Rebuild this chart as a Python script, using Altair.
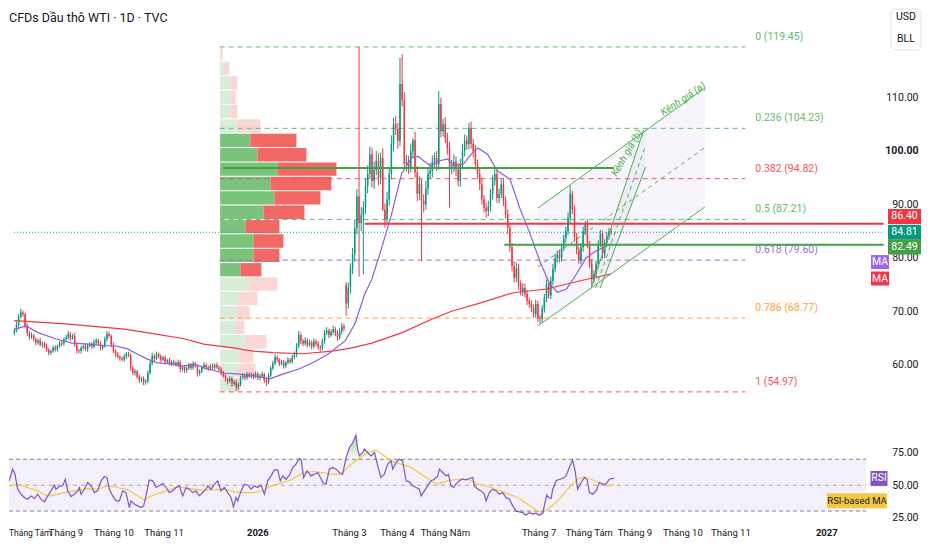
import altair as alt
import pandas as pd

FONT = "Roboto"
TXT = "#131722"
UP = "#089981"
DOWN = "#f23645"
GREEN = "#4caf50"
DKGREEN = "#43a047"
PURPLE = "#8e5ed6"
RSI_C = "#7e57c2"
YELLOW = "#f5c843"

title = "CFDs Dầu thô WTI · 1D · TVC"

# ---------------- candles (bar index 0 = 1 Sep 2025, weekdays only) -------------
first_bar = -26
first_open = 66.0
closes = [
    66.5, 67.5, 69.0, 69.8, 69.5, 67.3, 66.0, 65.2, 65.5, 64.8,
    64.2, 64.6, 63.8, 64.0, 63.5, 62.8, 62.3, 62.6, 63.2, 62.9,
    63.5, 64.1, 64.0, 64.8, 65.2, 65.8, 65.0, 65.5, 63.8, 62.7,
    62.6, 63.2, 63.5, 63.0, 63.6, 63.9, 63.4, 64.2, 64.6, 64.0,
    63.2, 63.5, 64.8, 65.8, 65.4, 63.8, 62.6, 62.0, 61.5, 61.2,
    61.0, 61.6, 62.1, 61.8, 59.5, 58.5, 58.8, 57.8, 57.2, 57.5,
    56.8, 57.0, 58.5, 60.3, 61.7, 61.2, 62.0, 61.6, 61.0, 61.4,
    60.6, 60.9, 60.2, 60.6, 60.4, 60.0, 60.5, 59.2, 59.6, 59.0,
    59.4, 60.0, 59.5, 60.2, 59.8, 58.4, 58.8, 59.6, 60.0, 59.6,
    59.3, 59.8, 59.5, 60.0, 59.6, 59.2, 58.6, 58.0, 57.4, 57.0,
    57.5, 56.5, 56.8, 55.9, 56.4, 57.6, 58.0, 57.6, 58.3, 57.9,
    58.2, 57.8, 58.4, 57.6, 57.9, 58.3, 57.2, 56.8, 58.0, 59.4,
    60.3, 61.4, 61.0, 60.2, 60.6, 59.8, 60.4, 61.0, 60.6, 61.5,
    62.0, 63.5, 65.6, 64.5, 64.0, 64.6, 63.8, 64.2, 63.5, 64.4,
    64.0, 63.4, 63.2, 64.5, 66.0, 66.4, 65.6, 66.2, 66.7, 66.0,
    65.2, 66.3, 67.2, 66.8, 71.5, 74.5, 78.0, 80.7, 85.6, 91.5,
    86.5, 88.0, 89.4, 93.5, 95.7, 99.4, 94.4, 96.5, 98.2, 95.0,
    98.7, 89.0, 87.2, 91.0, 95.7, 101.3, 105.0, 104.2, 101.9, 112.5,
    109.5, 97.6, 98.1, 97.0, 100.0, 102.0, 96.0, 92.0, 93.8, 90.7,
    90.0, 93.0, 95.7, 96.3, 98.0, 98.7, 97.5, 108.8, 103.7, 105.0,
    102.4, 100.5, 96.7, 97.2, 98.0, 96.5, 94.4, 97.5, 100.0, 101.9,
    101.3, 104.3, 101.3, 100.0, 97.5, 95.7, 93.8, 91.0, 89.4, 88.8,
    89.6, 92.0, 94.5, 95.7, 91.2, 92.0, 93.8, 90.7, 88.2, 85.6,
    82.0, 78.5, 76.3, 78.1, 75.1, 73.8, 74.4, 73.3, 72.0, 71.4,
    70.7, 69.5, 71.4, 68.8, 68.6, 70.5, 72.5, 75.1, 73.0, 75.7,
    78.0, 80.0, 80.7, 80.0, 81.9, 83.7, 85.0, 87.5, 92.0, 89.0,
    84.0, 81.5, 79.5, 82.0, 85.0, 86.5, 82.6, 79.0, 76.0, 77.0,
    78.9, 82.6, 84.5, 80.7, 82.8, 84.1, 85.0, 84.81,
]
wick_up = [
    0.4, 0.6, 0.5, 0.7, 0.4, 0.3, 0.5, 0.4, 0.6, 0.3,
    0.4, 0.3, 0.5, 0.4, 0.3, 0.5, 0.4, 0.3, 0.4, 0.5,
    0.3, 0.4, 0.5, 0.3, 0.4, 0.6, 0.4, 0.3, 0.5, 0.4,
    0.3, 0.4, 0.3, 0.5, 0.4, 0.3, 0.4, 0.6, 0.4, 0.3,
    0.4, 0.3, 0.5, 0.6, 0.4, 0.3, 0.4, 0.3, 0.4, 0.3,
    0.4, 0.5, 0.3, 0.4, 0.3, 0.4, 0.5, 0.3, 0.4, 0.3,
    0.4, 0.3, 0.5, 0.4, 0.6, 0.4, 0.5, 0.3, 0.4, 0.3,
    0.4, 0.3, 0.4, 0.3, 0.4, 0.3, 0.5, 0.4, 0.3, 0.4,
    0.3, 0.4, 0.3, 0.5, 0.4, 0.3, 0.4, 0.3, 0.5, 0.4,
    0.3, 0.4, 0.5, 0.3, 0.4, 0.3, 0.4, 0.3, 0.4, 0.3,
    0.4, 0.3, 0.5, 0.4, 0.3, 0.4, 0.5, 0.3, 0.4, 0.3,
    0.4, 0.3, 0.4, 0.3, 0.4, 0.5, 0.3, 0.4, 0.5, 0.4,
    0.5, 0.6, 0.4, 0.3, 0.4, 0.3, 0.4, 0.5, 0.3, 0.4,
    0.5, 0.6, 0.8, 0.5, 0.4, 0.6, 0.4, 0.5, 0.4, 0.6,
    0.4, 0.5, 0.3, 0.5, 0.6, 0.7, 0.4, 0.5, 0.6, 0.4,
    0.5, 0.6, 0.7, 0.5, 0.5, 0.9, 1.0, 1.2, 1.5, 1.4,
    27.95, 1.5, 1.2, 1.3, 1.6, 1.4, 1.2, 1.5, 1.8, 1.4,
    1.0, 1.8, 1.2, 1.4, 1.0, 1.6, 1.2, 1.5, 1.0, 4.9,
    5.6, 1.5, 1.2, 1.0, 1.4, 0.4, 1.6, 1.2, 1.5, 1.0,
    1.2, 1.4, 1.0, 1.5, 1.2, 1.0, 1.3, 2.4, 1.2, 1.0,
    1.3, 1.0, 1.2, 1.1, 1.4, 1.0, 1.2, 1.0, 1.3, 1.2,
    1.0, 0.9, 1.2, 1.0, 1.1, 0.9, 1.0, 1.2, 0.8, 1.0,
    1.1, 0.9, 1.0, 1.2, 0.8, 1.0, 0.9, 1.1, 0.8, 0.9,
    1.0, 0.8, 0.9, 1.1, 0.8, 0.7, 0.9, 0.8, 0.7, 0.6,
    0.7, 0.6, 0.8, 0.6, 0.5, 0.7, 0.8, 0.9, 0.7, 0.8,
    0.9, 0.8, 0.7, 0.9, 0.8, 0.7, 0.9, 1.0, 1.5, 0.5,
    0.8, 0.7, 0.6, 0.8, 0.9, 0.4, 0.7, 0.6, 0.8, 0.7,
    0.6, 0.7, 0.8, 0.6, 0.7, 0.8, 0.6, 0.5,
]
wick_dn = [
    0.5, 0.4, 0.6, 0.3, 0.5, 0.4, 0.6, 0.5, 0.3, 0.4,
    0.5, 0.4, 0.3, 0.6, 0.4, 0.3, 0.5, 0.4, 0.3, 0.4,
    0.4, 0.3, 0.5, 0.4, 0.3, 0.4, 0.5, 0.3, 0.4, 0.6,
    0.4, 0.5, 0.3, 0.4, 0.5, 0.3, 0.4, 0.3, 0.5, 0.4,
    0.5, 0.4, 0.3, 0.4, 0.3, 0.5, 0.4, 0.6, 0.3, 0.4,
    0.3, 0.4, 0.5, 0.3, 0.6, 0.4, 0.5, 0.4, 0.6, 0.4,
    0.6, 0.5, 0.4, 0.3, 0.4, 0.5, 0.3, 0.4, 0.5, 0.3,
    0.5, 0.4, 0.3, 0.4, 0.5, 0.3, 0.4, 0.6, 0.4, 0.5,
    0.4, 0.3, 0.5, 0.4, 0.3, 0.6, 0.4, 0.3, 0.4, 0.5,
    0.4, 0.3, 0.4, 0.5, 0.3, 0.4, 0.5, 0.4, 0.5, 0.6,
    0.4, 0.6, 0.4, 0.7, 0.5, 0.4, 0.3, 0.5, 0.4, 0.3,
    0.4, 0.5, 0.3, 0.4, 0.5, 0.3, 0.6, 0.7, 0.4, 0.3,
    0.4, 0.3, 0.5, 0.4, 0.3, 0.5, 0.4, 0.3, 0.4, 0.3,
    0.4, 0.5, 0.3, 0.6, 0.5, 0.4, 0.5, 0.4, 0.6, 0.4,
    0.5, 0.6, 0.7, 0.4, 0.5, 0.4, 0.6, 0.4, 0.5, 0.6,
    0.7, 0.5, 0.6, 0.5, 2.3, 1.0, 1.2, 1.0, 1.4, 1.2,
    10.0, 1.5, 11.0, 1.2, 1.4, 1.0, 1.2, 1.5, 1.0, 1.4,
    1.2, 0.2, 1.5, 1.0, 1.2, 1.0, 1.4, 1.2, 1.5, 1.0,
    1.2, 1.0, 1.5, 1.3, 1.0, 1.2, 1.0, 1.4, 1.2, 11.3,
    1.5, 1.0, 1.2, 1.0, 1.3, 1.0, 1.2, 1.0, 1.2, 1.0,
    1.0, 1.2, 7.3, 1.0, 1.1, 1.2, 1.0, 1.1, 0.9, 1.0,
    1.1, 1.0, 0.9, 1.2, 1.0, 0.9, 1.1, 1.0, 0.9, 1.3,
    1.0, 0.9, 1.1, 1.0, 0.9, 1.0, 0.8, 1.0, 0.9, 1.1,
    0.8, 1.0, 0.9, 0.8, 1.0, 0.8, 0.9, 0.7, 0.8, 0.7,
    0.8, 0.7, 0.6, 0.7, 0.9, 0.6, 0.7, 0.8, 0.6, 0.7,
    0.8, 0.7, 0.9, 0.8, 0.7, 0.6, 0.8, 0.7, 0.9, 0.8,
    0.9, 0.8, 0.6, 0.7, 0.8, 0.7, 0.8, 0.9, 1.2, 0.7,
    0.8, 0.7, 0.6, 0.8, 0.7, 0.6, 0.7, 0.5,
]
open_override = {128: 75.0}

# ---------------- moving averages (bar, price) ----------------
red_ma = [(-26.1, 68.3), (-2.3, 67.7), (25.2, 66.7), (39.0, 65.8), (52.8, 64.9),
          (61.9, 63.9), (75.7, 63.2), (84.9, 62.6), (94.0, 62.3), (107.8, 62.1),
          (121.6, 62.6), (130.7, 63.2), (139.9, 64.1), (153.7, 66.0), (167.4, 68.5),
          (176.6, 70.0), (190.4, 71.6), (205.5, 73.5), (221.1, 74.2), (236.2, 75.7),
          (250.9, 77.0)]
purple_ma = [(-26.1, 66.6), (-20.6, 67.3), (-14.7, 66.0), (-6.9, 64.9), (0.9, 64.1),
             (8.3, 63.9), (16.1, 63.6), (20.6, 63.6), (26.6, 63.0), (31.2, 62.0),
             (35.8, 61.1), (40.4, 60.4), (46.8, 60.2), (52.8, 59.8), (57.3, 60.2),
             (63.3, 59.3), (71.1, 58.5), (78.9, 58.3), (86.2, 57.9), (92.7, 57.4),
             (98.6, 58.3), (106.4, 59.3), (113.8, 60.7), (120.2, 62.2), (127.5, 64.5),
             (132.1, 67.7), (136.7, 73.3), (139.9, 76.0), (144.5, 81.9), (149.1, 88.2),
             (153.7, 95.7), (158.3, 98.7), (161.5, 99.0), (164.2, 98.1), (167.4, 97.2),
             (170.6, 98.1), (175.2, 98.5), (178.0, 97.2), (182.6, 97.6), (187.2, 100.0),
             (189.4, 100.5), (193.6, 99.4), (198.2, 96.3), (204.1, 94.7), (208.7, 89.2),
             (213.3, 84.6), (217.9, 79.4), (222.5, 75.1), (226.1, 73.6), (230.3, 74.2),
             (234.9, 77.0), (239.4, 80.0), (244.0, 81.3), (248.6, 82.2), (250.9, 82.6)]

# ---------------- RSI (bar, value) ----------------
rsi_pts = [(-26.0, 53.4), (-24.5, 62.4), (-23.4, 58.5), (-22.2, 46.9), (-20.6, 43.0),
           (-19.1, 40.5), (-17.6, 39.2), (-16.0, 41.7), (-14.5, 39.7), (-13.0, 43.0),
           (-11.5, 39.2), (-9.9, 37.1), (-8.4, 41.7), (-6.9, 45.6), (-5.3, 50.0),
           (-4.6, 46.9), (-3.0, 49.0), (-1.5, 49.5), (-0.3, 54.6), (0.8, 45.6),
           (2.3, 41.2), (3.8, 43.0), (5.4, 45.6), (6.1, 48.2), (6.9, 43.0),
           (8.4, 46.9), (10.0, 52.1), (11.5, 49.5), (13.0, 44.3), (14.5, 45.6),
           (16.1, 53.4), (17.6, 56.7), (18.8, 55.9), (19.9, 46.9), (21.4, 41.7),
           (23.0, 37.9), (24.5, 37.9), (26.0, 45.6), (27.5, 44.3), (29.1, 32.7),
           (29.8, 37.9), (31.4, 35.3), (32.9, 34.0), (34.4, 32.7), (35.6, 34.0),
           (36.7, 41.7), (38.2, 54.1), (39.8, 53.4), (41.3, 48.2), (42.8, 49.5),
           (44.4, 51.5), (45.9, 48.2), (47.4, 44.3), (48.9, 45.6), (50.5, 48.2),
           (52.0, 49.5), (53.5, 41.7), (55.1, 48.2), (56.6, 46.9), (58.1, 44.3),
           (59.6, 45.6), (61.2, 41.7), (62.7, 44.3), (64.2, 46.9), (65.0, 49.5),
           (66.5, 46.9), (68.1, 50.8), (69.6, 53.4), (71.1, 45.6), (72.6, 48.2),
           (74.2, 44.3), (75.7, 40.5), (76.8, 33.2), (78.0, 40.5), (78.8, 37.9),
           (80.3, 45.6), (81.8, 50.8), (83.4, 50.0), (84.9, 46.9), (86.4, 49.5),
           (87.9, 48.2), (89.5, 50.0), (91.0, 43.0), (92.5, 53.4), (94.1, 57.2),
           (95.6, 61.9), (97.1, 61.9), (98.3, 53.4), (99.4, 57.2), (100.9, 54.6),
           (102.5, 57.7), (104.0, 63.7), (105.5, 66.3), (107.0, 70.6), (107.8, 70.1),
           (109.0, 55.9), (110.6, 61.1), (112.4, 57.2), (113.9, 58.5), (115.5, 59.8),
           (116.7, 55.9), (117.8, 52.1), (119.3, 50.8), (120.8, 62.4), (122.3, 63.7),
           (123.9, 62.4), (125.4, 59.8), (126.9, 58.5), (128.5, 71.4), (130.0, 79.2),
           (131.5, 83.0), (133.0, 88.7), (133.8, 77.9), (134.6, 72.7), (136.1, 75.3),
           (136.9, 77.9), (138.4, 75.3), (139.9, 72.7), (141.5, 75.3), (143.0, 65.0),
           (144.5, 55.9), (146.0, 58.5), (147.6, 66.3), (149.1, 68.8), (149.9, 62.4),
           (151.4, 67.5), (152.9, 70.1), (154.4, 68.8), (156.0, 53.4), (157.5, 52.6),
           (159.0, 49.5), (160.6, 48.2), (162.1, 46.9), (162.9, 41.7), (164.4, 45.6),
           (165.9, 49.5), (167.4, 53.4), (169.0, 54.6), (170.5, 57.2), (171.3, 62.4),
           (172.8, 59.8), (174.3, 57.2), (175.4, 58.5), (176.6, 49.5), (177.8, 48.2),
           (178.9, 50.8), (180.4, 53.4), (181.9, 54.6), (183.5, 54.1), (185.0, 55.2),
           (186.6, 55.9), (187.3, 49.5), (188.9, 46.9), (190.4, 45.6), (191.9, 43.0),
           (192.7, 37.9), (194.2, 44.3), (195.7, 46.9), (197.3, 45.6), (198.8, 43.0),
           (200.3, 44.3), (201.8, 40.5), (203.4, 39.2), (204.9, 34.0), (206.4, 30.1),
           (208.0, 29.4), (209.5, 28.8), (211.0, 26.8), (212.6, 28.8), (214.1, 27.6),
           (215.6, 28.3), (217.1, 26.8), (218.7, 28.3), (219.4, 34.0), (220.5, 42.3),
           (221.4, 40.5), (222.5, 39.7), (223.3, 46.9), (224.8, 53.4), (226.3, 54.6),
           (227.8, 55.2), (229.4, 57.2), (230.9, 63.7), (232.4, 69.6), (233.5, 61.1),
           (234.7, 46.9), (236.3, 52.1), (237.8, 55.9), (239.0, 54.6), (240.1, 44.3),
           (241.6, 43.0), (243.1, 45.6), (244.7, 52.1), (246.2, 50.8), (247.7, 50.8),
           (249.2, 54.6), (250.8, 55.2), (251.4, 55.2)]
rsi_ma_pts = [(-26.1, 49.3), (-25.2, 49.5), (-22.2, 50.8), (-17.6, 48.2), (-13.0, 45.6),
              (-8.4, 41.7), (-5.3, 42.3), (-0.7, 44.3), (3.8, 45.6), (10.0, 47.4),
              (14.5, 46.9), (19.1, 49.5), (23.7, 48.2), (28.3, 46.4), (32.9, 41.7),
              (35.9, 38.6), (39.0, 41.7), (43.6, 44.3), (48.2, 46.9), (51.2, 49.0),
              (55.8, 47.4), (61.9, 46.4), (68.1, 46.4), (72.6, 46.9), (77.2, 44.8),
              (81.8, 44.3), (86.4, 44.3), (91.0, 46.1), (94.1, 49.5), (98.6, 51.5),
              (103.2, 54.1), (106.3, 57.2), (109.3, 59.8), (113.9, 60.6), (117.0, 59.8),
              (121.6, 58.5), (126.2, 58.5), (129.2, 63.7), (133.8, 70.1), (138.4, 75.3),
              (142.2, 77.1), (146.0, 72.7), (149.1, 68.8), (153.7, 66.3), (158.3, 63.7),
              (162.9, 58.5), (167.4, 53.4), (170.5, 50.8), (175.1, 53.4), (179.7, 54.6),
              (184.3, 54.6), (188.9, 50.8), (195.0, 48.2), (201.1, 44.3), (207.2, 40.5),
              (211.8, 35.3), (216.4, 30.1), (218.7, 28.8), (221.0, 31.4), (225.6, 37.9),
              (230.1, 46.9), (234.7, 54.6), (237.8, 56.7), (242.4, 53.4), (247.0, 50.0),
              (249.2, 49.5), (251.5, 50.3)]

# ---------------- volume profile (rows from top) ----------------
vp_buy = [0.5, 3.3, 10.3, 10.3, 10.3, 17.3, 30.3, 37.3, 57.3, 50.3, 54.3, 43.3,
          25.3, 33.3, 33.3, 20.3, 29.3, 18.3, 16.3, 16.3, 25.3, 19.3, 18.3, 15.3]
vp_sell = [1.8, 6.0, 7.0, 5.0, 7.0, 23.0, 46.0, 49.0, 59.0, 61.0, 46.0, 41.0,
           34.0, 30.0, 26.0, 21.0, 28.0, 19.0, 13.0, 8.0, 21.0, 14.0, 17.0, 5.0]
vp_value_area = (6, 15)
vp_low, vp_high = 54.97, 119.45
vp_start_bar = 70.7

# ---------------- fibonacci ----------------
fib_ratio = ["0", "0.236", "0.382", "0.5", "0.618", "0.786", "1"]
fib_price = [119.45, 104.23, 94.82, 87.21, 79.60, 68.77, 54.97]
fib_color = ["#66bb6a", "#66bb6a", "#f7525f", "#66bb6a", "#9575cd", "#ffa23e", "#f7525f"]
fib_start, fib_end, fib_label_bar = 69.3, 313.3, 317.9

# ---------------- drawings ----------------
level_price = [96.8, 86.40, 82.49]
level_from = [71.0, 136.7, 201.4]
level_to = [252.3, 377.5, 377.5]
level_color = [DKGREEN, DOWN, DKGREEN]
last_price = 84.81

chan_a = {"bar": [217.0, 294.5], "upper": [89.35, 111.78], "lower": [67.29, 89.53],
          "mid": [78.32, 100.65]}
chan_b_price = [74.39, 97.01, 103.93]
chan_b_left = [241.7, 260.4, 266.1]
chan_b_right = [245.9, 267.0, 266.1]
chan_b_mid = [(243.8, 74.39), (266.5, 100.47)]

month_bar = [-21, 0, 22, 45, 88, 130, 152, 174, 217, 240, 261, 283, 305, 349]
month_name = ["Tháng Tám", "Tháng 9", "Tháng 10", "Tháng 11", "2026", "Tháng 3",
              "Tháng 4", "Tháng Năm", "Tháng 7", "Tháng Tám", "Tháng 9", "Tháng 10",
              "Tháng 11", "2027"]

# =====================================================================
W, H1, H2, H3 = 857, 412, 97, 12
xdom = [-26.15, 366.97]
xs = alt.Scale(domain=xdom, nice=False, zero=False)
ys = alt.Scale(domain=[49.53, 126.54], nice=False, zero=False)
rs = alt.Scale(domain=[22.31, 97.33], nice=False, zero=False)

yax = alt.Axis(orient="right", values=[60, 70, 80, 90, 100, 110], format=".2f",
               labelAlign="right", labelPadding=52, ticks=False, tickSize=0,
               domain=False, grid=False, title=None, labelFont=FONT,
               labelFontSize=10.5, labelColor=TXT,
               labelFontWeight={"condition": {"test": "datum.value == 100", "value": "bold"},
                                "value": "normal"})
rax = alt.Axis(orient="right", values=[25, 50, 75], format=".2f",
               labelAlign="right", labelPadding=52, ticks=False, tickSize=0,
               domain=False, grid=False, title=None, labelFont=FONT,
               labelFontSize=10.5, labelColor=TXT)


def X(f):
    return alt.X(f, scale=xs, axis=None)


def Y(f):
    return alt.Y(f, scale=ys, axis=yax)


def R(f):
    return alt.Y(f, scale=rs, axis=rax)


NOCOL = alt.Color("col:N", scale=None)

# candles
n = len(closes)
bars = list(range(first_bar, first_bar + n))
opens = [first_open] + closes[:-1]
for b, v in open_override.items():
    opens[b - first_bar] = v
highs = [max(o, c) + w for o, c, w in zip(opens, closes, wick_up)]
lows = [min(o, c) - w for o, c, w in zip(opens, closes, wick_dn)]
cdf = pd.DataFrame({"i": bars, "o": opens, "h": highs, "l": lows, "c": closes})
cdf["col"] = [UP if c >= o else DOWN for o, c in zip(opens, closes)]

wicks = alt.Chart(cdf).mark_rule(strokeWidth=1, clip=True).encode(
    x=X("i:Q"), y=Y("l:Q"), y2="h:Q", color=NOCOL)
bodies = alt.Chart(cdf).mark_bar(width=1.5, clip=True).encode(
    x=X("i:Q"), y=Y("o:Q"), y2="c:Q", color=NOCOL)

# volume profile
step = (vp_high - vp_low) / len(vp_buy)
vrows = []
for k, (bv, sv) in enumerate(zip(vp_buy, vp_sell)):
    hi = vp_high - k * step - 0.1
    lo = vp_high - (k + 1) * step + 0.1
    in_va = vp_value_area[0] <= k <= vp_value_area[1]
    vrows.append({"x0": 0, "x1": bv, "lo": lo, "hi": hi, "col": GREEN,
                  "op": 0.75 if in_va else 0.22})
    vrows.append({"x0": bv, "x1": bv + sv, "lo": lo, "hi": hi, "col": "#ef5350",
                  "op": 0.88 if in_va else 0.24})
vpdf = pd.DataFrame(vrows)
vp_px0 = (vp_start_bar - xdom[0]) / (xdom[1] - xdom[0]) * W
vp = alt.Chart(vpdf).mark_rect().encode(
    x=alt.X("x0:Q", scale=alt.Scale(domain=[0, 100], range=[vp_px0, vp_px0 + 100]), axis=None),
    x2="x1:Q", y=Y("lo:Q"), y2="hi:Q", color=NOCOL,
    opacity=alt.Opacity("op:Q", scale=None))

# fibonacci
fdf = pd.DataFrame({"a": fib_start, "b": fib_end, "lx": fib_label_bar, "p": fib_price,
                    "col": fib_color,
                    "lab": [f"{r} ({p:.2f})" for r, p in zip(fib_ratio, fib_price)]})
fib_rules = alt.Chart(fdf).mark_rule(strokeWidth=1, strokeDash=[5, 4]).encode(
    x=X("a:Q"), x2="b:Q", y=Y("p:Q"), color=NOCOL)
fib_text = alt.Chart(fdf).mark_text(align="left", baseline="middle", dy=-10,
                                    font=FONT, fontSize=10.5).encode(
    x=X("lx:Q"), y=Y("p:Q"), text="lab:N", color=NOCOL)

# channels
ca = pd.DataFrame(chan_a)
chan_a_fill = alt.Chart(ca).mark_area(color="#7e57c2", opacity=0.06).encode(
    x=X("bar:Q"), y=Y("upper:Q"), y2="lower:Q")
cb = pd.DataFrame({"p": chan_b_price, "l": chan_b_left, "r": chan_b_right})
chan_b_fill = alt.Chart(cb).mark_area(orient="horizontal", color="#7e57c2", opacity=0.06).encode(
    y=Y("p:Q"), x=X("l:Q"), x2="r:Q")
solid = pd.DataFrame({
    "a": [chan_a["bar"][0], chan_a["bar"][0], chan_b_left[0], chan_b_right[0]],
    "pa": [chan_a["upper"][0], chan_a["lower"][0], chan_b_price[0], chan_b_price[0]],
    "b": [chan_a["bar"][1], chan_a["bar"][1], chan_b_left[2], chan_b_right[1]],
    "pb": [chan_a["upper"][1], chan_a["lower"][1], chan_b_price[2], chan_b_price[1]]})
dashed = pd.DataFrame({
    "a": [chan_a["bar"][0], chan_b_mid[0][0]], "pa": [chan_a["mid"][0], chan_b_mid[0][1]],
    "b": [chan_a["bar"][1], chan_b_mid[1][0]], "pb": [chan_a["mid"][1], chan_b_mid[1][1]]})
chan_lines = alt.Chart(solid).mark_rule(color=GREEN, strokeWidth=1).encode(
    x=X("a:Q"), x2="b:Q", y=Y("pa:Q"), y2="pb:Q")
chan_mid = alt.Chart(dashed).mark_rule(color=GREEN, strokeWidth=1, strokeDash=[4, 4]).encode(
    x=X("a:Q"), x2="b:Q", y=Y("pa:Q"), y2="pb:Q")
lab_a = alt.Chart(pd.DataFrame({"i": [284.4], "p": [109.7], "t": ["Kênh giá (a)"]})).mark_text(
    angle=326, color=GREEN, font=FONT, fontSize=10, fontStyle="italic").encode(
    x=X("i:Q"), y=Y("p:Q"), text="t:N")
lab_b = alt.Chart(pd.DataFrame({"i": [258.3], "p": [99.6], "t": ["Kênh giá (b)"]})).mark_text(
    angle=300, color=GREEN, font=FONT, fontSize=10, fontStyle="italic").encode(
    x=X("i:Q"), y=Y("p:Q"), text="t:N")

# horizontal levels
ldf = pd.DataFrame({"a": level_from, "b": level_to, "p": level_price, "col": level_color})
levels = alt.Chart(ldf).mark_rule(strokeWidth=2).encode(
    x=X("a:Q"), x2="b:Q", y=Y("p:Q"), color=NOCOL)
lastline = alt.Chart(pd.DataFrame({"a": [xdom[0]], "b": [377.5], "p": [last_price]})).mark_rule(
    color=UP, strokeWidth=1, strokeDash=[1, 2]).encode(x=X("a:Q"), x2="b:Q", y=Y("p:Q"))

# moving averages
rma = pd.DataFrame(red_ma, columns=["i", "v"])
pma = pd.DataFrame(purple_ma, columns=["i", "v"])
red_line = alt.Chart(rma).mark_line(color="#f23645", strokeWidth=1.2, clip=True).encode(
    x=X("i:Q"), y=Y("v:Q"))
pur_line = alt.Chart(pma).mark_line(color=PURPLE, strokeWidth=1.2, clip=True).encode(
    x=X("i:Q"), y=Y("v:Q"))


def box(price, text, fill, xc, wpx, hpx, yoff, tcol="white", fs=10.5, scale_fn=Y):
    half = hpx / wpx
    shape = f"M-1,-{half:.3f}L1,-{half:.3f}L1,{half:.3f}L-1,{half:.3f}Z"
    d = pd.DataFrame({"p": [price], "t": [text]})
    b = alt.Chart(d).mark_point(shape=shape, size=wpx * wpx, filled=True, opacity=1,
                                color=fill, strokeWidth=0, yOffset=yoff).encode(
        x=alt.value(xc), y=scale_fn("p:Q"))
    t = alt.Chart(d).mark_text(color=tcol, font=FONT, fontSize=fs, yOffset=yoff,
                               baseline="middle").encode(
        x=alt.value(xc), y=scale_fn("p:Q"), text="t:N")
    return [b, t]


price_boxes = (box(86.40, "86.40", DOWN, 895.5, 33, 15, -7.3)
               + box(last_price, "84.81", UP, 895.5, 33, 15, 0)
               + box(82.49, "82.49", DKGREEN, 895.5, 33, 15, 2.3)
               + box(purple_ma[-1][1], "MA", "#9c6ade", 871, 18, 14, 18)
               + box(red_ma[-1][1], "MA", "#f23645", 871, 18, 14, 4.5))

one = pd.DataFrame({"a": [0]})
title_mark = alt.Chart(one).mark_text(text=title, align="left", baseline="middle",
                                      font=FONT, fontSize=12.5, color=TXT).encode(
    x=alt.value(0), y=alt.value(9))
cur_box = alt.Chart(one).mark_rect(fill="white", stroke="#e0e3eb", strokeWidth=1,
                                   cornerRadius=4).encode(
    x=alt.value(882), x2=alt.value(912), y=alt.value(0), y2=alt.value(41))
cur_usd = alt.Chart(one).mark_text(text="USD", font=FONT, fontSize=10.5, color=TXT,
                                   baseline="middle").encode(x=alt.value(897), y=alt.value(8))
cur_bll = alt.Chart(one).mark_text(text="BLL", font=FONT, fontSize=10.5, color=TXT,
                                   baseline="middle").encode(x=alt.value(897), y=alt.value(30))

inner = alt.layer(chan_a_fill, chan_b_fill, fib_rules, fib_text, lastline,
                  wicks, bodies, red_line, pur_line, levels, chan_lines, chan_mid,
                  lab_a, lab_b, *price_boxes, title_mark, cur_box, cur_usd, cur_bll)
main = alt.layer(vp, inner).resolve_scale(x="independent").properties(width=W, height=H1)

# ---------------- RSI pane ----------------
rdf = pd.DataFrame(rsi_pts, columns=["i", "v"])
rmdf = pd.DataFrame(rsi_ma_pts, columns=["i", "v"])
band = alt.Chart(pd.DataFrame({"a": [xdom[0]], "b": [xdom[1]], "t": [70], "u": [30]})).mark_rect(
    color="#7e57c2", opacity=0.09).encode(x=X("a:Q"), x2="b:Q", y=R("t:Q"), y2="u:Q")
bl = pd.DataFrame({"a": [xdom[0]] * 2, "b": [xdom[1]] * 2, "v": [70, 30]})
band_lines = alt.Chart(bl).mark_rule(color="#868993", strokeWidth=1, strokeDash=[4, 3]).encode(
    x=X("a:Q"), x2="b:Q", y=R("v:Q"))
mid_line = alt.Chart(pd.DataFrame({"a": [xdom[0]], "b": [xdom[1]], "v": [50]})).mark_rule(
    color="#a3a6af", strokeWidth=1, strokeDash=[4, 4]).encode(x=X("a:Q"), x2="b:Q", y=R("v:Q"))
ob_fill = alt.Chart(rdf).transform_calculate(ob="max(datum.v, 70)", b="70").mark_area(
    color=alt.Gradient(gradient="linear",
                       stops=[alt.GradientStop(color="rgba(76,175,80,0.55)", offset=0),
                              alt.GradientStop(color="rgba(76,175,80,0.05)", offset=1)],
                       x1=1, x2=1, y1=0, y2=1), clip=True).encode(
    x=X("i:Q"), y=R("ob:Q"), y2="b:Q")
os_fill = alt.Chart(rdf).transform_calculate(os="min(datum.v, 30)", b="30").mark_area(
    color="#f23645", opacity=0.15, clip=True).encode(x=X("i:Q"), y=R("os:Q"), y2="b:Q")
rsi_line = alt.Chart(rdf).mark_line(color=RSI_C, strokeWidth=1.2, clip=True).encode(
    x=X("i:Q"), y=R("v:Q"))
rsi_ma_line = alt.Chart(rmdf).mark_line(color=YELLOW, strokeWidth=1.2, clip=True).encode(
    x=X("i:Q"), y=R("v:Q"))
rsi_boxes = (box(rsi_pts[-1][1], "RSI", RSI_C, 870, 17, 15, 0, scale_fn=R)
             + box(rsi_ma_pts[-1][1], "RSI-based MA", YELLOW, 848, 60, 15, 16, tcol=TXT,
                   fs=9.5, scale_fn=R))
rsi = alt.layer(band, band_lines, mid_line, ob_fill, os_fill, rsi_ma_line, rsi_line,
                *rsi_boxes).properties(width=W, height=H2)

# ---------------- time labels ----------------
mdf = pd.DataFrame({"i": month_bar, "t": month_name})
mdf["bold"] = mdf["t"].str.match(r"^\d{4}$")
first_lab = mdf.iloc[[0]]
rest = mdf.iloc[1:]
# the first month sits at the very left edge: start it flush with the pane
lab_first = alt.Chart(first_lab).mark_text(font=FONT, fontSize=8.5, color=TXT,
                                           align="left", baseline="middle").encode(
    x=alt.value(0), y=alt.value(6), text="t:N")
lab_norm = alt.Chart(rest[~rest["bold"]]).mark_text(clip=True, font=FONT, fontSize=9.5,
                                                     color=TXT, baseline="middle").encode(
    x=X("i:Q"), y=alt.value(6), text="t:N")
lab_bold = alt.Chart(rest[rest["bold"]]).mark_text(clip=True, font=FONT, fontSize=9.5,
                                                    fontWeight="bold", color=TXT,
                                                    baseline="middle").encode(
    x=X("i:Q"), y=alt.value(6), text="t:N")
labels = alt.layer(lab_first, lab_norm, lab_bold).properties(width=W, height=H3)

chart = alt.vconcat(main, rsi, labels, spacing=3).properties(
    padding=0, background="white").configure(font=FONT).configure_view(
    stroke="transparent", strokeWidth=0)

chart.save("out.html", embed_options={"renderer": "svg", "actions": False})
